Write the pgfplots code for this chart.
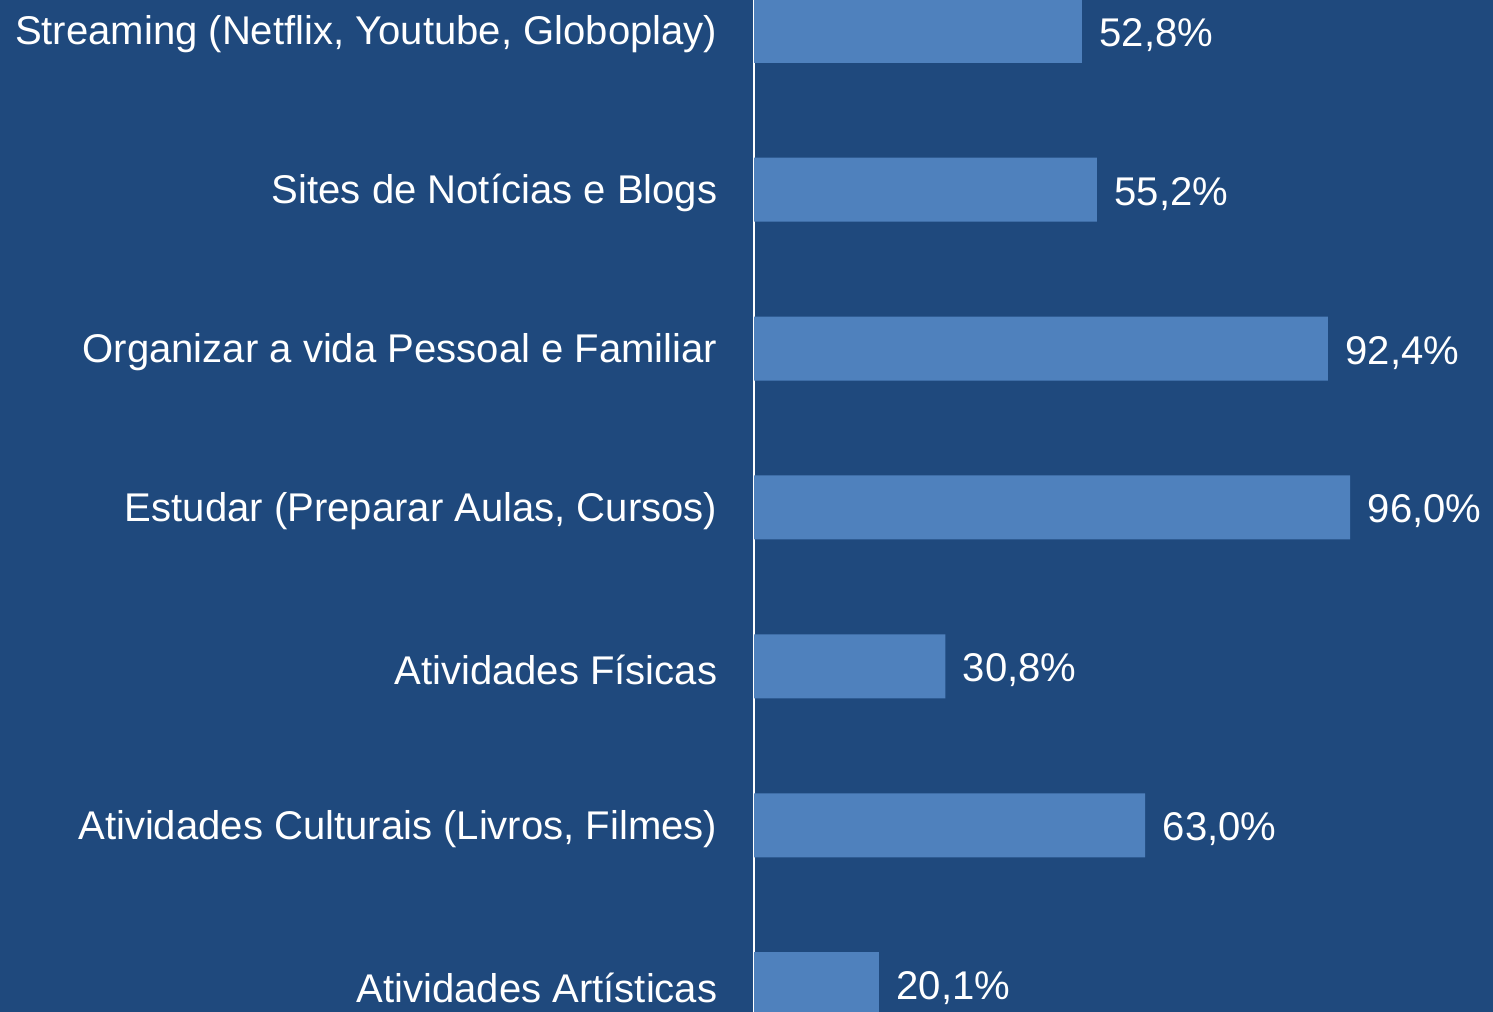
\documentclass[border=0pt]{standalone}
\usepackage{pgfplots}
\pgfplotsset{compat=1.18}
\usepackage{fontspec}
\setmainfont{Liberation Sans}
\definecolor{bgblue}{RGB}{31,73,125}
\definecolor{barblue}{RGB}{79,129,189}
\begin{document}
\begin{tikzpicture}[x=1mm,y=1mm]
\fill[bgblue] (0,0) rectangle (149.3,101.2);
\useasboundingbox (0,0) rectangle (149.3,101.2);
\begin{axis}[
  at={(75.4mm,0mm)}, anchor=south west,
  scale only axis, width=73.9mm, height=101.2mm,
  xbar, bar width=6.4mm,
  xmin=0, xmax=119.0,
  ymin=-0.194, ymax=6.175, y dir=reverse,
  axis x line=none,
  axis y line=left,
  y axis line style={white, line width=0.5pt, -},
  ytick={0,1,2,3,4,5,6},
  yticklabels={{Streaming (Netflix, Youtube, Globoplay)},{Sites de Notícias e Blogs},{Organizar a vida Pessoal e Familiar},{Estudar (Preparar Aulas, Cursos)},{Atividades Físicas},{Atividades Culturais (Livros, Filmes)},{Atividades Artísticas}},
  major tick length=0pt,
  yticklabel style={white, font=\fontsize{11.4}{13}\selectfont, inner sep=0pt, anchor=east, xshift=-3.6mm, yshift=-0.35mm},
  /pgf/number format/assume math mode=true,
  nodes near coords={\pgfmathprintnumber[fixed,fixed zerofill,precision=1,use comma]{\pgfplotspointmeta}\%},
  nodes near coords style={white, font=\fontsize{11.4}{13}\selectfont, anchor=west, inner sep=0pt, xshift=1.7mm, yshift=-0.4mm},
]
\addplot[fill=barblue, draw=none] coordinates {(52.8,0) (55.2,1) (92.4,2) (96.0,3) (30.8,4) (63.0,5) (20.1,6)};
\end{axis}
\end{tikzpicture}
\end{document}
